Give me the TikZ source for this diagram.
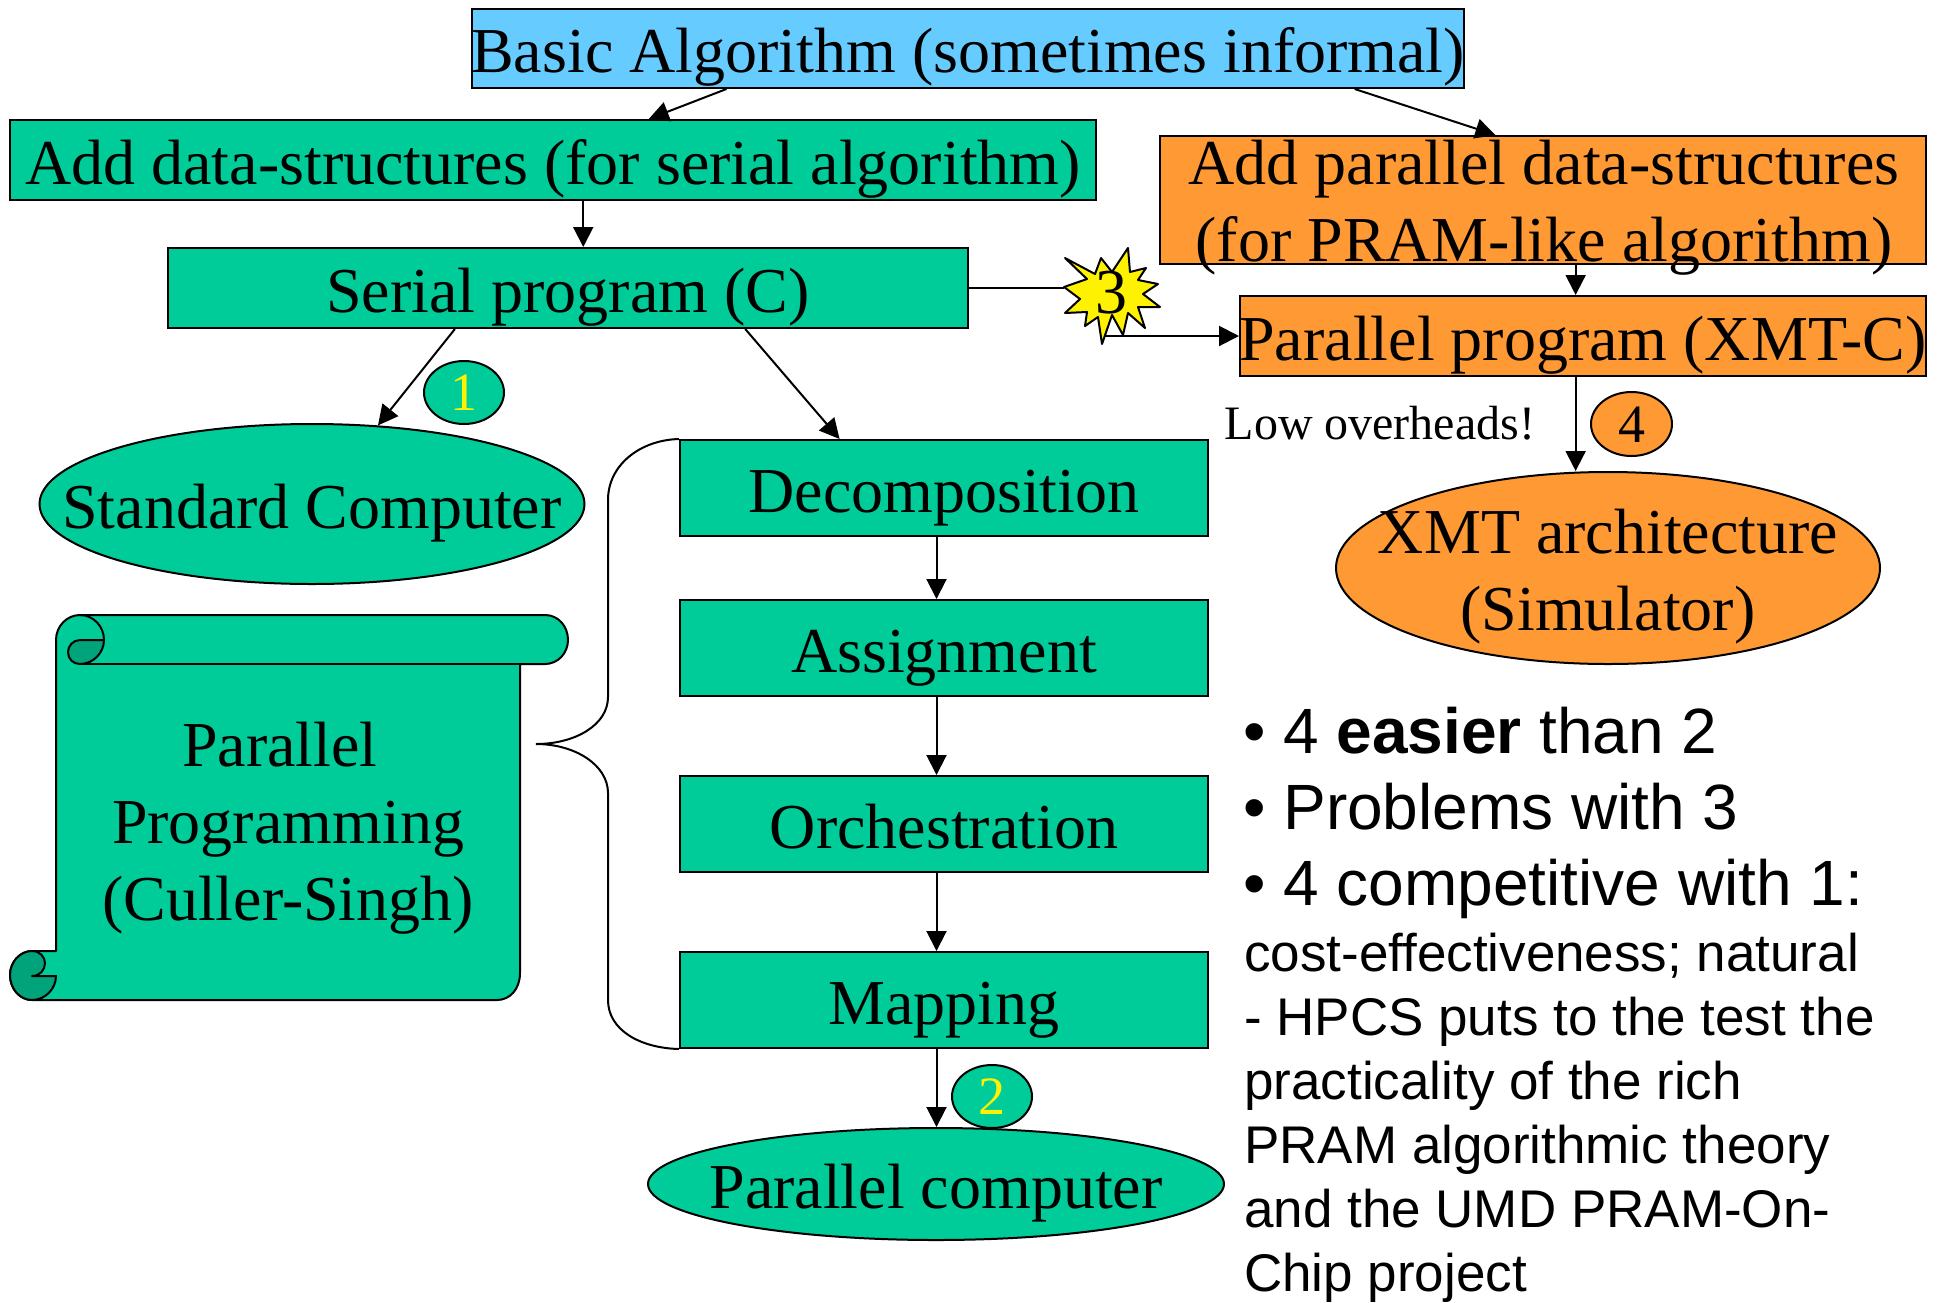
\documentclass[tikz,border=0pt]{standalone}
\usepackage{fontspec}
\setmainfont{Liberation Serif}
\setsansfont{Liberation Sans}
\usetikzlibrary{arrows.meta,calc,shapes.geometric}
\definecolor{grn}{HTML}{00CC99}
\definecolor{dgrn}{HTML}{00A37A}
\definecolor{sky}{HTML}{66CCFF}
\definecolor{org}{HTML}{FF9933}
\newcommand\ctr[1]{\makebox[0pt][c]{#1}}
\tikzset{
  box/.style={draw=black,line width=2pt,inner sep=0pt,font=\fontsize{64}{77}\selectfont,anchor=center,align=center,text height=50pt,text depth=2pt},
  oval/.style={box,ellipse},
  badge/.style={oval,font=\fontsize{54}{60}\selectfont,text height=36pt,text depth=0pt},
  lines/.style={inner sep=0pt,font=\fontsize{64}{77}\selectfont,align=center},
  conn/.style={line width=2pt,-{Triangle[length=20pt,width=20pt]}},
  plain/.style={line width=2pt},
  outline/.style={draw=black,line width=2pt,line join=round},
}
\begin{document}
\begin{tikzpicture}[x=1pt,y=-1pt]
\useasboundingbox (0,0) rectangle (1946,1302);
\fill[white] (0,0) rectangle (1946,1302);

% boxes
\node[box,fill=sky,minimum width=992pt,minimum height=79pt] (basic) at (968,48.5) {\ctr{Basic Algorithm (sometimes informal)}};
\node[box,fill=grn,minimum width=1086pt,minimum height=80pt] (adds) at (553,160) {\ctr{Add data-structures (for serial algorithm)}};
\node[box,fill=grn,minimum width=800pt,minimum height=80pt] (serial) at (568,288) {\ctr{Serial program (C)}};
\node[box,fill=org,minimum width=766pt,minimum height=128pt] (addp) at (1543,200) {};
\node[lines] (addptext) at ($(addp.center)+(1,8)$) {\ctr{Add parallel data-structures}\\\ctr{(for PRAM-like algorithm)}};
\node[box,fill=org,minimum width=686pt,minimum height=80pt] (prog) at (1583,336) {\ctr{Parallel program (XMT-C)}};
\node[box,fill=grn,minimum width=528pt,minimum height=96pt] (dec) at (944,488) {Decomposition};
\node[box,fill=grn,minimum width=528pt,minimum height=96pt] (asg) at (944,648) {Assignment};
\node[box,fill=grn,minimum width=528pt,minimum height=96pt] (orc) at (944,824) {Orchestration};
\node[box,fill=grn,minimum width=528pt,minimum height=96pt] (map) at (944,1000) {Mapping};

% ovals
\node[oval,fill=grn,minimum width=545pt,minimum height=160pt] (std) at (312,504) {\ctr{Standard Computer}};
\node[oval,fill=grn,minimum width=576pt,minimum height=112pt] (pc) at (936,1184) {\ctr{Parallel computer}};
\node[oval,fill=org,minimum width=544pt,minimum height=192pt] (xmt) at (1608,568) {};
\node[lines] (xmttext) at ($(xmt.center)+(0,9)$) {\ctr{XMT architecture}\\\ctr{(Simulator)}};
\node[badge,fill=grn,text=yellow,minimum width=80pt,minimum height=63pt] (b1) at (464,392.5) {1};
\node[badge,fill=grn,text=yellow,minimum width=80pt,minimum height=63pt] (b2) at (992,1096.5) {2};
\node[badge,fill=org,minimum width=81pt,minimum height=64pt] (b4) at (1631.5,424) {4};

% scroll
\path[outline,fill=grn] (56,640) .. controls (56,626) and (67,615) .. (80,615) -- (545,615)
  .. controls (558,615) and (568,626) .. (568,640) .. controls (568,653) and (558,664) .. (545,664)
  -- (520,664) -- (520,973) .. controls (520,989) and (510,1000) .. (497,1000) -- (32,1000)
  .. controls (20,1000) and (10,989) .. (10,975) .. controls (10,962) and (20,951) .. (32,951)
  -- (56,951) -- cycle;
\path[outline] (80,664) -- (520,664);
\path[outline,fill=dgrn] (104,640) -- (80,640) .. controls (73,640) and (68,646) .. (68,652)
  .. controls (68,659) and (73,664) .. (80,664) .. controls (93,664) and (104,653) .. (104,640) -- cycle;
\path[outline] (80,615) .. controls (93,615) and (104,626) .. (104,640);
\path[outline,fill=dgrn] (32,1000) .. controls (20,1000) and (10,989) .. (10,975)
  .. controls (10,962) and (20,951) .. (32,951) .. controls (40,951) and (45,957) .. (45,963)
  .. controls (45,970) and (40,976) .. (32,976) -- (56,976)
  .. controls (56,989) and (45,1000) .. (32,1000) -- cycle;
\node[lines] (scrolltext) at (288,828) {\hspace*{-16pt}Parallel\\Programming\\(Culler-Singh)};

% brace
\coordinate (tip) at (536,744);
\path[plain,draw=black] (dec.north west) .. controls (640,440) and (608,465) .. (608,500) -- (608,697)
  .. controls (608,725) and (575,744) .. (tip) .. controls (575,744) and (608,765) .. (608,793)
  -- (608,1000) .. controls (608,1030) and (640,1048) .. (map.south west);

% star
\path[outline,fill=yellow] (1065,258) -- (1095,274) -- (1101,258) -- (1112,272) -- (1128,248) -- (1130,272)
  -- (1146,268) -- (1138,280) -- (1158,284) -- (1143,294) -- (1160,307) -- (1138,307) -- (1145,328)
  -- (1128,313) -- (1123,335) -- (1112,315) -- (1102,344) -- (1098,317) -- (1085,326) -- (1087,312)
  -- (1065,313) -- (1080,299) -- (1064,287) -- (1087,279) -- cycle;
\node[font=\fontsize{64}{77}\selectfont,inner sep=0pt] (star) at (1111,293) {3};
\coordinate (starL) at (1064,288);
\coordinate (starB) at (1105,336);

% connectors
\draw[conn] ($(basic.south west)!0.257!(basic.south east)$) -- ($(adds.north west)!0.588!(adds.north east)$);
\draw[conn] ($(basic.south west)!0.889!(basic.south east)$) -- ($(addp.north west)!0.438!(addp.north east)$);
\draw[conn] ($(serial.north west)!0.519!(serial.north east)$) coordinate (c0) (c0 |- adds.south) -- (c0);
\draw[conn] ($(serial.south west)!0.359!(serial.south east)$) -- (std.50);
\draw[conn] ($(serial.south west)!0.721!(serial.south east)$) -- ($(dec.north west)!0.303!(dec.north east)$);
\draw[conn] ($(dec.south)+(-7.5,0)$) coordinate (c2) -- (c2 |- asg.north);
\draw[conn] ($(asg.south)+(-7.5,0)$) coordinate (c3) -- (c3 |- orc.north);
\draw[conn] ($(orc.south)+(-7.5,0)$) coordinate (c4) -- (c4 |- map.north);
\draw[conn] ($(map.south)+(-7.5,0)$) coordinate (c5) -- (c5 |- pc.north);
\draw[conn] ($(addp.south west)!0.5425!(addp.south east)$) coordinate (c6) -- (c6 |- prog.north);
\draw[conn] (c6 |- prog.south) coordinate (c7) -- (c7 |- xmt.north);
\draw[plain] (serial.east) -- (starL);
\draw[conn] (starB) -- (prog.west);

% text
\node[font=\fontsize{48}{58}\selectfont,inner sep=0pt] (low) at (1380,423) {\ctr{Low overheads!}};
\node[font=\sffamily\fontsize{64}{76}\selectfont,align=left,anchor=north west,inner sep=0pt] (bul) at (1243,707) {• 4 \textbf{easier} than 2\\• Problems with 3\\• 4 competitive with 1:};
\node[font=\sffamily\fontsize{53}{64}\selectfont,align=left,anchor=north west,inner sep=0pt] (para) at (1244,933) {cost-effectiveness; natural\\- HPCS puts to the test the\\practicality of the rich\\PRAM algorithmic theory\\and the UMD PRAM-On-\\Chip project};
\end{tikzpicture}
\end{document}
